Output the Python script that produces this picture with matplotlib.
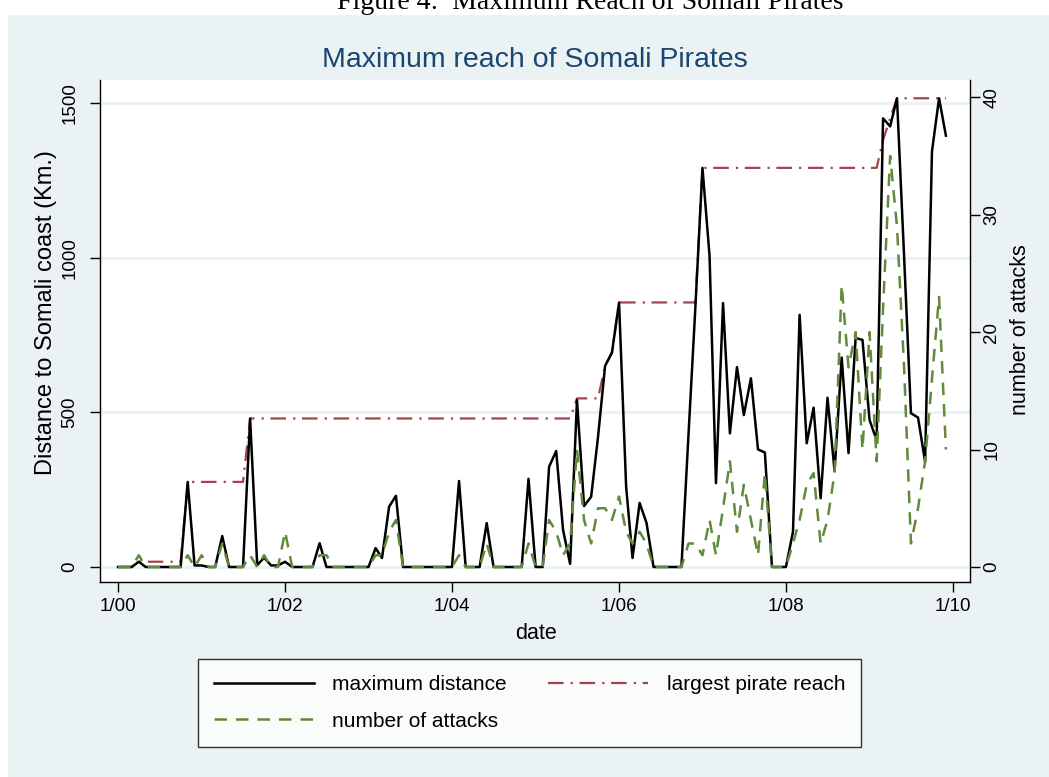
import numpy as np
import pandas as pd
import matplotlib
matplotlib.use('Agg')
import matplotlib.pyplot as plt
import matplotlib.dates as mdates
from matplotlib.patches import Rectangle

plt.rcParams['font.family'] = ['Liberation Sans', 'DejaVu Sans']

# monthly series, Jan 2000 - Dec 2009
months = pd.date_range('2000-01-01', periods=120, freq='MS')

max_distance = [
    0, 0, 0, 17, 0, 0, 0, 0, 0, 0, 275, 5,
    5, 0, 0, 100, 0, 0, 0, 480, 6, 30, 5, 5,
    17, 0, 0, 0, 0, 77, 0, 0, 0, 0, 0, 0,
    0, 61, 29, 195, 230, 0, 0, 0, 0, 0, 0, 0,
    0, 278, 0, 0, 0, 142, 0, 0, 0, 0, 0, 285,
    0, 0, 324, 375, 120, 10, 540, 197, 227, 420, 650, 693,
    855, 260, 29, 207, 143, 0, 0, 0, 0, 0, 430, 840,
    1290, 1005, 271, 853, 432, 646, 491, 610, 380, 370, 0, 0,
    0, 114, 815, 400, 515, 222, 547, 310, 677, 368, 740, 734,
    475, 410, 1450, 1424, 1515, 1005, 497, 483, 340, 1343, 1515, 1394,
]

largest_reach = [
    0, 0, 0, 17, 17, 17, 17, 17, 17, 17, 275, 275,
    275, 275, 275, 275, 275, 275, 275, 480, 480, 480, 480, 480,
    480, 480, 480, 480, 480, 480, 480, 480, 480, 480, 480, 480,
    480, 480, 480, 480, 480, 480, 480, 480, 480, 480, 480, 480,
    480, 480, 480, 480, 480, 480, 480, 480, 480, 480, 480, 480,
    480, 480, 480, 480, 480, 480, 545, 545, 545, 545, 650, 693,
    855, 855, 855, 855, 855, 855, 855, 855, 855, 855, 855, 855,
    1290, 1290, 1290, 1290, 1290, 1290, 1290, 1290, 1290, 1290, 1290, 1290,
    1290, 1290, 1290, 1290, 1290, 1290, 1290, 1290, 1290, 1290, 1290, 1290,
    1290, 1290, 1380, 1450, 1515, 1515, 1515, 1515, 1515, 1515, 1515, 1515,
]

n_attacks = [
    0, 0, 0, 1, 0, 0, 0, 0, 0, 0, 1, 0,
    1, 0, 0, 2, 0, 0, 0, 1, 0, 1, 0, 0,
    3, 0, 0, 0, 0, 1, 1, 0, 0, 0, 0, 0,
    0, 1, 1, 3, 4, 0, 0, 0, 0, 0, 0, 0,
    0, 1, 0, 0, 0, 2, 0, 0, 0, 0, 0, 2,
    0, 0, 4, 3, 1, 2, 10, 4, 2, 5, 5, 4,
    6, 3, 2, 3, 2, 0, 0, 0, 0, 0, 2, 2,
    1, 4, 1, 5, 9, 3, 7, 4, 1, 8, 0, 0,
    0, 2, 4, 7, 8, 2, 4, 8, 24, 17, 20, 10,
    20, 9, 22, 35, 29, 17, 2, 5, 9, 16, 23, 10,
]

tick_dates = pd.to_datetime(['2000-01-01', '2002-01-01', '2004-01-01',
                             '2006-01-01', '2008-01-01', '2010-01-01'])
tick_labels = ['1/00', '1/02', '1/04', '1/06', '1/08', '1/10']

BG = '#EAF2F3'
NAVY = '#1A476F'
RED = '#A3444B'
GREEN = '#618A3C'

W, H = 1049, 777
fig = plt.figure(figsize=(W / 100, H / 100), dpi=100)
fig.patch.set_facecolor('white')
fig.patches.append(Rectangle((8 / W, 0), 1 - 8 / W, 1 - 15 / H,
                             transform=fig.transFigure, facecolor=BG,
                             edgecolor='none', zorder=-10))

fig.text(590 / W, 1 - 9 / H, 'Figure 4:  Maximum Reach of Somali Pirates',
         family=['Liberation Serif', 'DejaVu Serif'], fontsize=20,
         ha='center', va='baseline')

ax = fig.add_axes([100 / W, 195 / H, 870 / W, 502 / H])
ax.set_facecolor('white')
ax2 = ax.twinx()

x = mdates.date2num(months)
ax.plot(x, max_distance, color='black', lw=1.8, label='maximum distance', zorder=3)
ax.plot(x, largest_reach, color=RED, lw=1.6, linestyle=(0, (7.0, 3.2, 1.0, 3.0)),
        label='largest pirate reach', zorder=2)
ax2.plot(x, n_attacks, color=GREEN, lw=1.8, linestyle=(0, (5.0, 3.6)),
         label='number of attacks')

x0 = mdates.date2num(pd.Timestamp('2000-01-01'))
x1 = mdates.date2num(pd.Timestamp('2010-01-01'))
ax.set_xlim(x0 - 78.75, x1 + 74.4)
ax.set_ylim(-48.5, 1574)
ax2.set_ylim(-1.28, 41.47)

ax.set_xticks(mdates.date2num(tick_dates))
ax.set_xticklabels(tick_labels)
ax.set_yticks([0, 500, 1000, 1500])
ax2.set_yticks([0, 10, 20, 30, 40])

ax.yaxis.grid(True, color=BG, lw=2.2)
ax.set_axisbelow(True)

for a in (ax, ax2):
    a.spines['top'].set_visible(False)
    for s in a.spines.values():
        s.set_linewidth(1.0)
ax.spines['right'].set_visible(False)
ax2.spines['left'].set_visible(False)
ax2.spines['bottom'].set_visible(False)

ax.tick_params(axis='x', direction='out', length=7.5, width=1, labelsize=13.5, pad=4)
ax.tick_params(axis='y', direction='out', length=7.5, width=1, labelsize=13.5, pad=8)
ax2.tick_params(axis='y', direction='out', length=7.5, width=1, labelsize=13.5, pad=2)
plt.setp(ax.get_yticklabels(), rotation=90, va='center')
plt.setp(ax2.get_yticklabels(), rotation=90, va='center')

ax.set_xlabel('date', fontsize=15.5)
ax.xaxis.set_label_coords(0.501, -0.082)
ax.set_ylabel('Distance to Somali coast (Km.)', fontsize=17)
ax.yaxis.set_label_coords(-0.049, 0.536)
ax2.set_ylabel('number of attacks', fontsize=15.5)
ax2.yaxis.set_label_coords(1.046, 0.502)

fig.text(535 / W, 1 - 60 / H, 'Maximum reach of Somali Pirates',
         color=NAVY, fontsize=20.5, ha='center', va='center')

h1, l1 = ax.get_legend_handles_labels()
h2, l2 = ax2.get_legend_handles_labels()
handles = [h1[0], h2[0], h1[1]]
labels = [l1[0], l2[0], l1[1]]
leg = fig.legend(handles, labels, loc='center', bbox_to_anchor=(529.5 / W, 74 / H),
                 ncol=2, fontsize=15, frameon=True, fancybox=False,
                 handlelength=4.8, handletextpad=0.87, columnspacing=2.0,
                 labelspacing=0.84, borderpad=0.78)
leg.get_frame().set_edgecolor('black')
leg.get_frame().set_linewidth(1.0)

fig.savefig('out.png', dpi=100, facecolor=fig.get_facecolor())
